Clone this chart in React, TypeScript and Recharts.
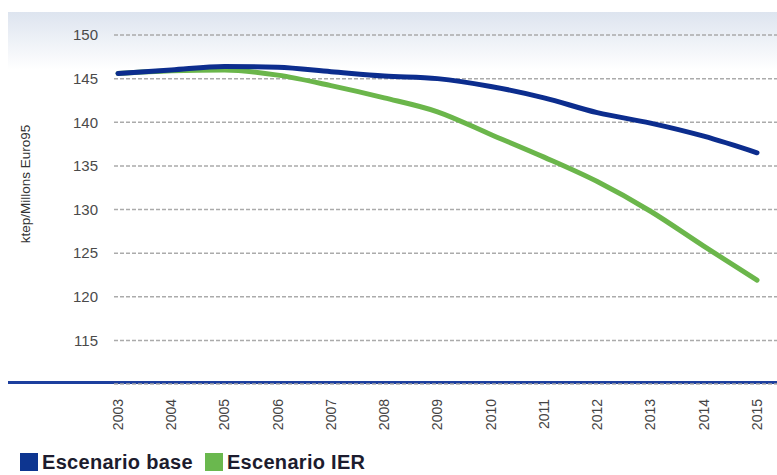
import { LineChart, Line, XAxis, YAxis, CartesianGrid, Legend, Label } from 'recharts';

const years = ['2003', '2004', '2005', '2006', '2007', '2008', '2009', '2010', '2011', '2012', '2013', '2014', '2015'];
const baseScenario = [145.6, 146.0, 146.4, 146.3, 145.8, 145.3, 145.0, 144.1, 142.8, 141.1, 139.9, 138.4, 136.5];
const ierScenario = [145.6, 145.9, 146.0, 145.4, 144.2, 142.8, 141.2, 138.6, 136.0, 133.2, 129.8, 125.8, 121.9];
const yTicks = [115, 120, 125, 130, 135, 140, 145, 150];

const data = years.map((year, i) => ({ year, base: baseScenario[i], ier: ierScenario[i] }));

const BLUE = '#0c2d8e';
const GREEN = '#6bb64b';

const YearTick = ({ x, y, payload }: any) => (
  <text
    x={x}
    y={y}
    dy="0.35em"
    transform={`rotate(-90 ${x} ${y})`}
    textAnchor="end"
    fontSize={14}
    fontFamily="Liberation Sans, Arial, sans-serif"
    fill="#444"
  >
    {payload.value}
  </text>
);

const LegendContent = () => (
  <div
    style={{
      display: 'flex',
      alignItems: 'center',
      fontFamily: 'Liberation Sans, Arial, sans-serif',
      fontSize: 20,
      fontWeight: 700,
      letterSpacing: 0.3,
      lineHeight: '18px',
      height: 18,
      color: '#1c1c2e',
    }}
  >
    <span style={{ width: 18, height: 18, background: '#0d3590', marginRight: 4 }} />
    <span style={{ marginRight: 12 }}>Escenario base</span>
    <span style={{ width: 18, height: 18, background: '#6ab84e', marginRight: 4 }} />
    <span>Escenario IER</span>
  </div>
);

export default function App() {
  return (
    <div style={{ position: 'absolute', left: 0, top: 0, width: 777, height: 475, background: '#fff', overflow: 'hidden' }}>
      {/* soft header band behind the plot */}
      <div
        style={{
          position: 'absolute',
          left: 8,
          top: 12,
          width: 769,
          height: 58,
          background: 'linear-gradient(#dde4ef, #ffffff)',
        }}
      />
      {/* baseline running under the whole chart */}
      <div style={{ position: 'absolute', left: 8, top: 381, width: 769, height: 3, background: '#1d3f9e' }} />
      <LineChart
        width={777}
        height={475}
        data={data}
        margin={{ top: 35, right: 0, left: 0, bottom: 31 }}
        style={{ position: 'absolute', left: 0, top: 0 }}
      >
        <CartesianGrid vertical={false} stroke="#ababab" strokeWidth={1.5} strokeDasharray="4 2" />
        <XAxis
          dataKey="year"
          height={60}
          axisLine={false}
          tickLine={false}
          tickMargin={9}
          interval={0}
          padding={{ left: 4, right: 20 }}
          tick={<YearTick />}
        />
        <YAxis
          width={114}
          domain={[110, 150]}
          ticks={yTicks}
          axisLine={false}
          tickLine={false}
          tickMargin={10}
          tick={{ fontSize: 15, fill: '#4a4a4a', fontFamily: 'Liberation Sans, Arial, sans-serif' }}
        >
          <Label
            content={() => (
              <text
                x={25}
                y={184}
                transform="rotate(-90 25 184)"
                textAnchor="middle"
                dy="0.35em"
                fontSize={13.5}
                fontFamily="Liberation Sans, Arial, sans-serif"
                fill="#333"
              >
                ktep/Millons Euro95
              </text>
            )}
          />
        </YAxis>
        <Legend
          layout="horizontal"
          verticalAlign="middle"
          align="center"
          content={<LegendContent />}
          wrapperStyle={{ left: 20, top: 453, width: 420, height: 18 }}
        />
        <Line
          type="monotone"
          dataKey="ier"
          name="Escenario IER"
          stroke={GREEN}
          strokeWidth={5}
          dot={false}
          strokeLinecap="round"
          isAnimationActive={false}
        />
        <Line
          type="monotone"
          dataKey="base"
          name="Escenario base"
          stroke={BLUE}
          strokeWidth={5}
          dot={false}
          strokeLinecap="round"
          isAnimationActive={false}
        />
      </LineChart>
    </div>
  );
}
